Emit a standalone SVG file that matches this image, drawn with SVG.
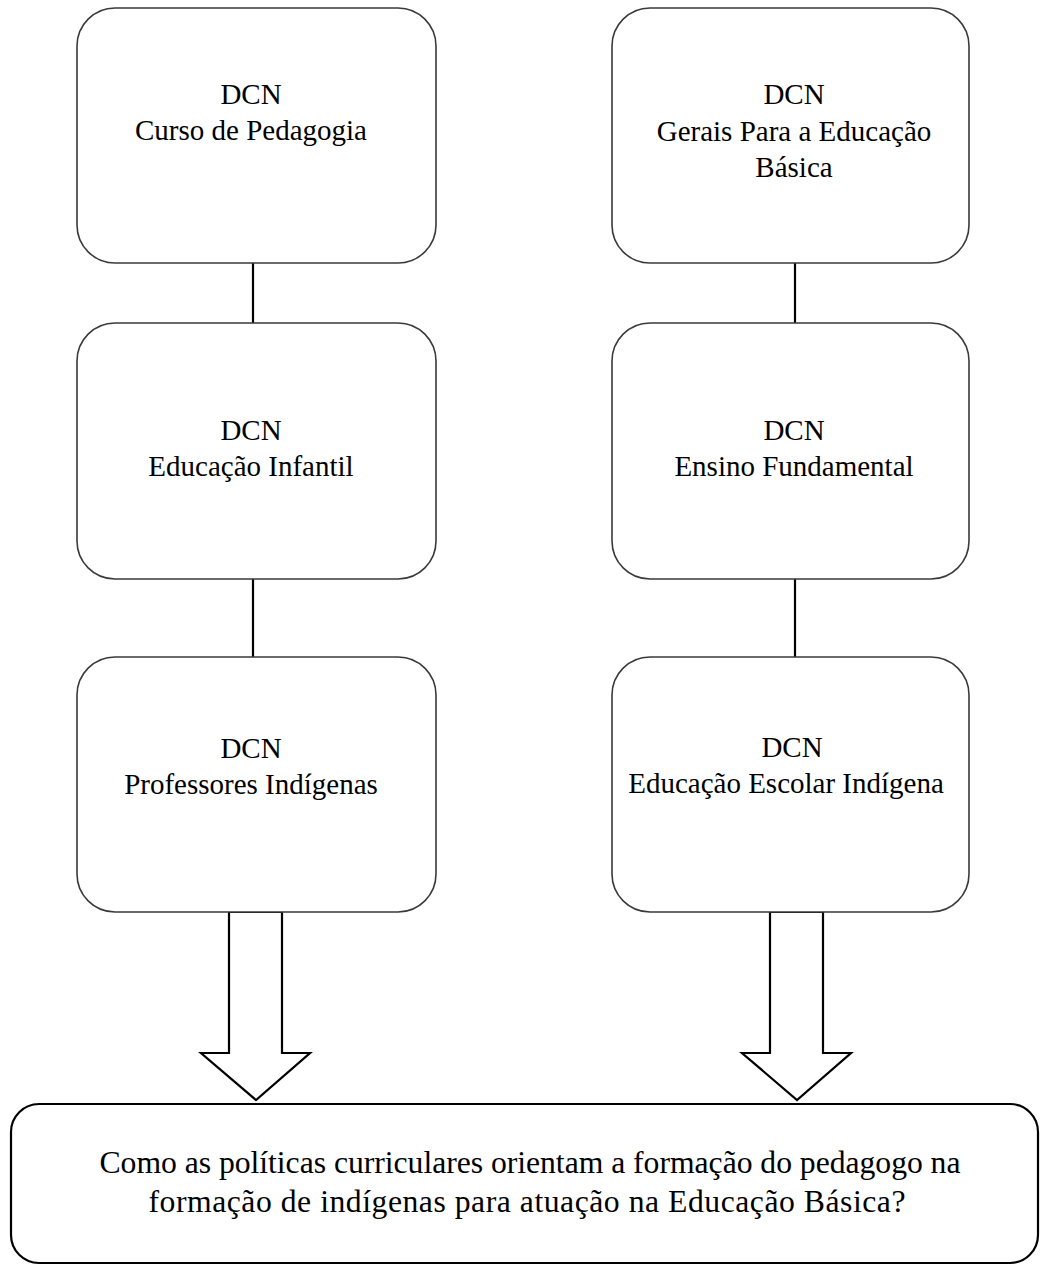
<svg xmlns="http://www.w3.org/2000/svg" width="1041" height="1270" viewBox="0 0 1041 1270">
<style>
.box{fill:#fff;stroke:#3a3a3a;stroke-width:1.6}
.t{font-family:"Liberation Serif","Times New Roman",serif;font-size:29px;fill:#000;text-anchor:middle}
.b{font-size:31.7px}
.c{stroke:#000;stroke-width:2.2;fill:none}
.ar{fill:#fff;stroke:#000;stroke-width:2.2;stroke-linejoin:miter}
.q{fill:#fff;stroke:#000;stroke-width:2.2}
</style>
<rect width="1041" height="1270" fill="#fff"/>
<g id="connectors">
<line class="c" x1="253" y1="263" x2="253" y2="323"/>
<line class="c" x1="253" y1="579" x2="253" y2="657"/>
<line class="c" x1="795" y1="263" x2="795" y2="323"/>
<line class="c" x1="795" y1="579" x2="795" y2="657"/>
<path class="ar" d="M229,912 L282,912 L282,1053 L310,1053 L256,1100 L201,1053 L229,1053 Z"/>
<path class="ar" d="M770,912 L823,912 L823,1053 L851,1053 L797,1100 L742,1053 L770,1053 Z"/>
</g>
<g id="n1">
<rect class="box" x="77" y="8" width="359" height="255" rx="38" ry="38"/>
<text class="t" x="251" y="104">DCN</text>
<text class="t" x="251" y="140">Curso de Pedagogia</text>
</g>
<g id="n2">
<rect class="box" x="77" y="323" width="359" height="256" rx="38" ry="38"/>
<text class="t" x="251" y="440">DCN</text>
<text class="t" x="251" y="476">Educação Infantil</text>
</g>
<g id="n3">
<rect class="box" x="77" y="657" width="359" height="255" rx="38" ry="38"/>
<text class="t" x="251" y="758">DCN</text>
<text class="t" x="251" y="794">Professores Indígenas</text>
</g>
<g id="n4">
<rect class="box" x="612" y="8" width="357" height="255" rx="38" ry="38"/>
<text class="t" x="794" y="104">DCN</text>
<text class="t" x="794" y="141">Gerais Para a Educação</text>
<text class="t" x="794" y="177">Básica</text>
</g>
<g id="n5">
<rect class="box" x="612" y="323" width="357" height="256" rx="38" ry="38"/>
<text class="t" x="794" y="440">DCN</text>
<text class="t" x="794" y="476">Ensino Fundamental</text>
</g>
<g id="n6">
<rect class="box" x="612" y="657" width="357" height="255" rx="38" ry="38"/>
<text class="t" x="792" y="757">DCN</text>
<text class="t" x="786" y="793">Educação Escolar Indígena</text>
</g>
<g id="n7">
<rect class="q" x="11" y="1104" width="1027" height="159" rx="28" ry="28"/>
<text class="t b" x="530" y="1173" textLength="861" lengthAdjust="spacing">Como as políticas curriculares orientam a formação do pedagogo na</text>
<text class="t b" x="527" y="1212" textLength="757" lengthAdjust="spacing">formação de indígenas para atuação na Educação Básica?</text>
</g>
</svg>
